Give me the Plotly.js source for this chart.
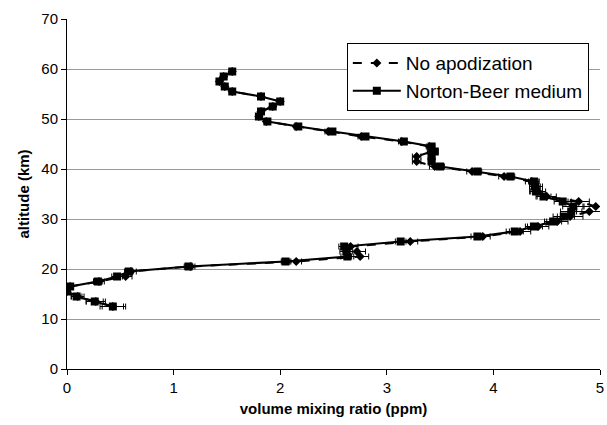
<!DOCTYPE html>
<html>
<head>
<meta charset="utf-8">
<script src="https://cdn.plot.ly/plotly-3.0.1.min.js"></script>
<style>html,body{margin:0;padding:0;background:#fff;}#chart{width:607px;height:425px;}</style>
</head>
<body>
<div id="chart"></div>
<script>
const altitude = [12.5,13.5,14.5,15.5,16.5,17.5,18.5,19.5,20.5,21.5,22.5,23.5,24.5,25.5,26.5,27.5,28.5,29.5,30.5,31.5,32.5,33.5,34.5,35.5,36.5,37.5,38.5,39.5,40.5,41.5,42.5,43.5,44.5,45.5,46.5,47.5,48.5,49.5,50.5,51.5,52.5,53.5,54.5,55.5,56.5,57.5,58.5,59.5];
const nortonBeer = [0.43,0.26,0.09,0.0,0.03,0.29,0.47,0.58,1.14,2.05,2.63,2.62,2.6,3.13,3.85,4.2,4.38,4.56,4.66,4.73,4.75,4.65,4.47,4.40,4.39,4.38,4.16,3.85,3.50,3.42,3.42,3.45,3.42,3.16,2.80,2.49,2.17,1.88,1.80,1.82,1.93,2.0,1.82,1.55,1.48,1.43,1.47,1.55];
const noApod = [0.43,0.27,0.10,0.0,0.03,0.30,0.55,0.60,1.16,2.15,2.75,2.72,2.66,3.22,3.90,4.25,4.42,4.60,4.72,4.90,4.96,4.80,4.50,4.42,4.40,4.36,4.10,3.80,3.45,3.28,3.28,3.42,3.40,3.14,2.76,2.45,2.15,1.87,1.80,1.82,1.93,2.0,1.82,1.55,1.48,1.43,1.47,1.55];
const errNoApod = [0.12,0.09,0.06,0.03,0.03,0.05,0.06,0.05,0.04,0.05,0.08,0.08,0.07,0.07,0.07,0.1,0.1,0.1,0.12,0.12,0.12,0.1,0.09,0.07,0.06,0.06,0.05,0.05,0.05,0.04,0.04,0.04,0.03,0.03,0.03,0.03,0.02,0.02,0.02,0.02,0.02,0.02,0.02,0.02,0.02,0.02,0.02,0.02];
const errNorton = [0.1,0.08,0.05,0.03,0.03,0.04,0.05,0.04,0.04,0.04,0.06,0.06,0.05,0.05,0.06,0.08,0.08,0.08,0.1,0.1,0.1,0.08,0.07,0.06,0.05,0.05,0.04,0.04,0.04,0.03,0.03,0.03,0.03,0.02,0.02,0.02,0.02,0.02,0.02,0.02,0.02,0.02,0.02,0.02,0.02,0.02,0.02,0.02];

const traces = [
  {
    x: noApod, y: altitude, name: 'No apodization', type: 'scatter', mode: 'lines+markers',
    line: {color: '#000', width: 2, dash: 'dash'},
    marker: {symbol: 'diamond', size: 7, color: '#000'},
    error_x: {type: 'data', array: errNoApod, visible: true, color: '#000', thickness: 1, width: 3}
  },
  {
    x: nortonBeer, y: altitude, name: 'Norton-Beer medium', type: 'scatter', mode: 'lines+markers',
    line: {color: '#000', width: 2},
    marker: {symbol: 'square', size: 8, color: '#000'},
    error_x: {type: 'data', array: errNorton, visible: true, color: '#000', thickness: 1, width: 3}
  }
];

const layout = {
  width: 607, height: 425,
  margin: {l: 67, r: 7, t: 19, b: 56},
  paper_bgcolor: '#fff', plot_bgcolor: '#fff',
  font: {family: 'Liberation Sans, Arial, sans-serif', color: '#000', size: 15},
  showlegend: true,
  legend: {
    x: 0.525, y: 0.931, xanchor: 'left', yanchor: 'top',
    bordercolor: '#000', borderwidth: 1, bgcolor: '#fff',
    font: {size: 19, family: 'Liberation Sans, Arial, sans-serif'},
    itemwidth: 48,
    tracegroupgap: 0
  },
  xaxis: {
    range: [0, 5], dtick: 1, tick0: 0,
    showgrid: false, zeroline: false,
    showline: true, linecolor: '#000', linewidth: 1,
    ticks: 'outside', ticklen: 5, tickcolor: '#000',
    tickfont: {size: 15},
    title: {text: '<b>volume mixing ratio (ppm)</b>', font: {size: 15}, standoff: 8}
  },
  yaxis: {
    range: [0, 70], dtick: 10, tick0: 0,
    showgrid: true, gridcolor: '#9a9a9a', gridwidth: 1,
    zeroline: false,
    showline: true, linecolor: '#000', linewidth: 1,
    ticks: 'outside', ticklen: 5, tickcolor: '#000',
    tickfont: {size: 15},
    title: {text: '<b>altitude (km)</b>', font: {size: 15}, standoff: 8}
  }
};

Plotly.newPlot('chart', traces, layout, {displayModeBar: false, staticPlot: true});
</script>
</body>
</html>
